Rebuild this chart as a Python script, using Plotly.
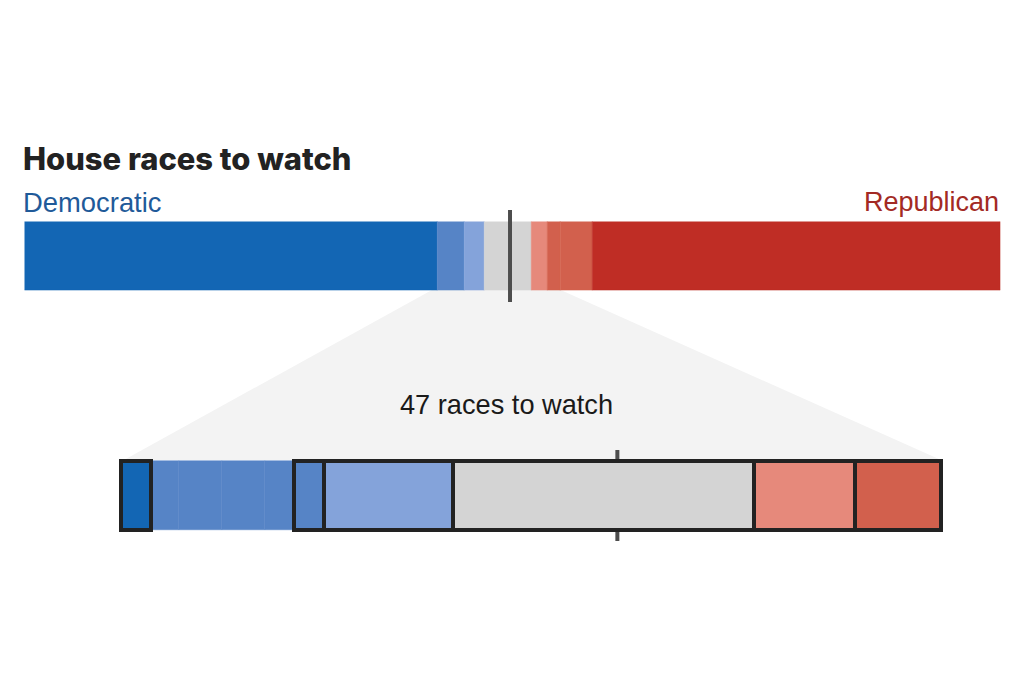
import plotly.graph_objects as go
from itertools import accumulate

W, H = 1024, 683

# ---- data ----
all_labels = ["Solid D", "Likely D", "Lean D", "Toss-up", "Lean R", "Likely R", "Likely R", "Solid R"]
all_seats = [184, 12, 9, 21, 7, 6, 14, 182]
all_majority = 216.4

watch_labels = ["Solid D", "Likely D", "Likely D", "Likely D", "Likely D", "Likely D", "Lean D", "Toss-up", "Lean R", "Likely R"]
watch_races = [1.72, 1.6, 2.46, 2.46, 1.66, 1.72, 7.42, 17.24, 5.78, 4.94]
watch_boxed = [True, False, False, False, False, True, True, True, True, True]
watch_majority = 28.45

TITLE = "House races to watch"
LEFT_PARTY = "Democratic"
RIGHT_PARTY = "Republican"
CAPTION = "47 races to watch"

# ---- style ----
COLORS = {
    "Solid D": "#1366b4", "Likely D": "#5684c6", "Lean D": "#84a3da", "Toss-up": "#d4d4d4",
    "Lean R": "#e6897b", "Likely R": "#d2604d", "Solid R": "#bf2d25",
}
INK = "#222222"
TICK = "#4d4d4d"
FONT = "Liberation Sans"

TOP_X = (24.5, 1000.5)
TOP_Y = (221.5, 290.5)
BOT_X = (121, 941)
BOT_Y = (461, 530)
PAD = 5  # room round the lower bar so that its outlines are not clipped

px = lambda v: v / W
py = lambda v: 1 - v / H

fig = go.Figure()

all_bases = [0] + list(accumulate(all_seats))[:-1]
for lab, val, start in zip(all_labels, all_seats, all_bases):
    fig.add_trace(go.Bar(
        x=[val], base=[start], y=[0], width=1, orientation="h", name=lab, xaxis="x", yaxis="y",
        marker=dict(color=COLORS[lab], line=dict(width=0.5, color=COLORS[lab])),
        showlegend=False, hovertemplate=lab + ": %{x}<extra></extra>",
    ))

# plain segments first, so that the outlined boxes lie on top of them
watch_bases = [0] + list(accumulate(watch_races))[:-1]
watch_rows = sorted(zip(watch_labels, watch_races, watch_bases, watch_boxed), key=lambda r: r[3])
for lab, val, start, boxed in watch_rows:
    fig.add_trace(go.Bar(
        x=[val], base=[start], y=[0], width=1, orientation="h", name=lab, xaxis="x2", yaxis="y2",
        marker=dict(color=COLORS[lab],
                    line=dict(width=4, color=INK) if boxed else dict(width=0.5, color=COLORS[lab])),
        showlegend=False, hovertemplate=lab + ": %{x}<extra></extra>",
    ))

axis_off = dict(visible=False, fixedrange=True)
bot_scale = (BOT_X[1] - BOT_X[0]) / sum(watch_races)
pad_x = PAD / bot_scale
pad_y = PAD / (BOT_Y[1] - BOT_Y[0])
fig.update_layout(
    width=W, height=H, margin=dict(l=0, r=0, t=0, b=0),
    paper_bgcolor="white", plot_bgcolor="rgba(0,0,0,0)",
    barmode="overlay", bargap=0,
    xaxis=dict(domain=[px(TOP_X[0]), px(TOP_X[1])], range=[0, sum(all_seats)], anchor="y", **axis_off),
    yaxis=dict(domain=[py(TOP_Y[1]), py(TOP_Y[0])], range=[-0.5, 0.5], anchor="x", **axis_off),
    xaxis2=dict(domain=[px(BOT_X[0] - PAD), px(BOT_X[1] + PAD)],
                range=[-pad_x, sum(watch_races) + pad_x], anchor="y2", **axis_off),
    yaxis2=dict(domain=[py(BOT_Y[1] + PAD), py(BOT_Y[0] - PAD)],
                range=[-0.5 - pad_y, 0.5 + pad_y], anchor="x2", **axis_off),
)

top_scale = (TOP_X[1] - TOP_X[0]) / sum(all_seats)
left_top = TOP_X[0] + all_seats[0] * top_scale
right_top = TOP_X[0] + sum(all_seats[:5]) * top_scale
poly = (f"M {px(left_top)} {py(287)} L {px(right_top)} {py(284)} "
        f"L {px(941)} {py(460)} L {px(124)} {py(460)} Z")

fig.update_layout(shapes=[
    dict(type="path", path=poly, xref="paper", yref="paper", fillcolor="#f3f3f3",
         line=dict(width=0), layer="below"),
    dict(type="line", xref="x2", yref="paper", x0=watch_majority, x1=watch_majority,
         y0=py(450), y1=py(541), line=dict(color=TICK, width=4), layer="below"),
    dict(type="line", xref="x", yref="paper", x0=all_majority, x1=all_majority,
         y0=py(210), y1=py(302), line=dict(color=TICK, width=4), layer="above"),
])

def note(text, x, y, size, color, anchor="left", family=FONT, weight=400):
    fig.add_annotation(
        text=text, x=px(x), y=py(y), xref="paper", yref="paper",
        xanchor=anchor, yanchor="middle", showarrow=False,
        font=dict(family=family, size=size, color=color, weight=weight),
    )

note(TITLE, 21, 159, 30.9, INK, family="Inter", weight=800)
note(LEFT_PARTY, 21, 202, 27.4, "#1f5a99")
note(RIGHT_PARTY, 1001, 202, 27, "#a32a24", anchor="right")
note(CAPTION, 506.5, 404, 27.2, "#1a1a1a", anchor="center")

fig.write_html("out.html", post_script="document.body.style.margin='0';",
               config=dict(displayModeBar=False))
